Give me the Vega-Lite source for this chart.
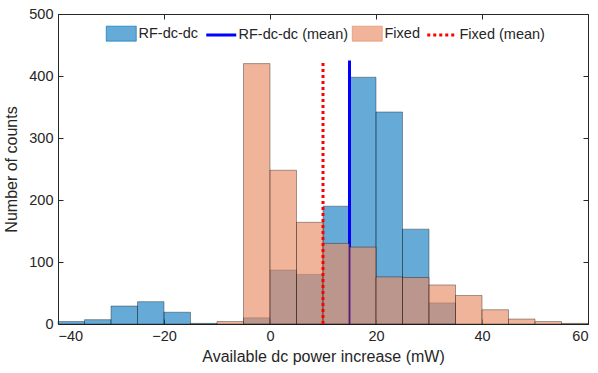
{
  "$schema": "https://vega.github.io/schema/vega-lite/v6.json",
  "width": 530,
  "height": 310,
  "autosize": {"type": "none"},
  "padding": {"left": 58, "top": 14, "right": 10, "bottom": 49},
  "background": "white",
  "config": {
    "view": {"stroke": "#262626", "strokeWidth": 1},
    "font": "Liberation Sans",
    "axis": {
      "grid": false,
      "domainColor": "#262626",
      "tickColor": "#262626",
      "labelColor": "#262626",
      "titleColor": "#262626",
      "labelFont": "Liberation Sans",
      "titleFont": "Liberation Sans",
      "labelFontSize": 14.5,
      "titleFontSize": 16,
      "titleFontWeight": "normal",
      "tickSize": -5
    },
    "legend": {"labelFont": "Liberation Sans", "labelFontSize": 14.5, "labelColor": "#262626"}
  },
  "datasets": {
    "hist": [
      {"series": "RF-dc-dc", "start": -40, "end": -35, "count": 4},
      {"series": "RF-dc-dc", "start": -35, "end": -30, "count": 7},
      {"series": "RF-dc-dc", "start": -30, "end": -25, "count": 29},
      {"series": "RF-dc-dc", "start": -25, "end": -20, "count": 36},
      {"series": "RF-dc-dc", "start": -20, "end": -15, "count": 19},
      {"series": "RF-dc-dc", "start": -15, "end": -10, "count": 1},
      {"series": "RF-dc-dc", "start": -5, "end": 0, "count": 10},
      {"series": "RF-dc-dc", "start": 0, "end": 5, "count": 87},
      {"series": "RF-dc-dc", "start": 5, "end": 10, "count": 80},
      {"series": "RF-dc-dc", "start": 10, "end": 15, "count": 190},
      {"series": "RF-dc-dc", "start": 15, "end": 20, "count": 398},
      {"series": "RF-dc-dc", "start": 20, "end": 25, "count": 342},
      {"series": "RF-dc-dc", "start": 25, "end": 30, "count": 153},
      {"series": "RF-dc-dc", "start": 30, "end": 35, "count": 34},
      {"series": "Fixed", "start": -10, "end": -5, "count": 4},
      {"series": "Fixed", "start": -5, "end": 0, "count": 420},
      {"series": "Fixed", "start": 0, "end": 5, "count": 248},
      {"series": "Fixed", "start": 5, "end": 10, "count": 164},
      {"series": "Fixed", "start": 10, "end": 15, "count": 130},
      {"series": "Fixed", "start": 15, "end": 20, "count": 124},
      {"series": "Fixed", "start": 20, "end": 25, "count": 76},
      {"series": "Fixed", "start": 25, "end": 30, "count": 75},
      {"series": "Fixed", "start": 30, "end": 35, "count": 63},
      {"series": "Fixed", "start": 35, "end": 40, "count": 46},
      {"series": "Fixed", "start": 40, "end": 45, "count": 23},
      {"series": "Fixed", "start": 45, "end": 50, "count": 8},
      {"series": "Fixed", "start": 50, "end": 55, "count": 4},
      {"series": "Fixed", "start": 55, "end": 60, "count": 1}
    ],
    "means": [
      {"series": "RF-dc-dc (mean)", "x": 15, "bottom": 0, "top": 425},
      {"series": "Fixed (mean)", "x": 10, "bottom": 0, "top": 425}
    ]
  },
  "layer": [
    {
      "data": {"name": "hist"},
      "transform": [{"filter": "datum.series == 'RF-dc-dc'"}],
      "mark": {"type": "rect", "fillOpacity": 0.6, "stroke": "#000000", "strokeOpacity": 0.5, "strokeWidth": 0.7},
      "encoding": {
        "x": {"field": "start", "type": "quantitative", "scale": {"domain": [-40, 60], "nice": false},
          "axis": {"values": [-40, -20, 0, 20, 40, 60], "title": "Available dc power increase (mW)", "labelPadding": 10, "titlePadding": 6}},
        "x2": {"field": "end"},
        "y": {"field": "count", "type": "quantitative", "scale": {"domain": [0, 500], "nice": false},
          "axis": {"values": [0, 100, 200, 300, 400, 500], "title": "Number of counts", "labelPadding": 10, "titlePadding": 9}},
        "y2": {"datum": 0},
        "color": {"field": "series", "type": "nominal",
          "scale": {"domain": ["RF-dc-dc", "RF-dc-dc (mean)", "Fixed", "Fixed (mean)"], "range": ["#0072BD", "#0000FF", "#E88C65", "#FF0000"]},
          "legend": {"title": null, "orient": "none", "legendX": 56, "legendY": 12, "direction": "horizontal", "columns": 4, "columnPadding": 1, "labelOffset": 10, "padding": 0, "symbolSize": 900,
            "encode": {"symbols": {"update": {
              "shape": {"signal": "(datum.value == 'RF-dc-dc' || datum.value == 'Fixed') ? 'M-1,-0.5H1V0.5H-1Z' : 'M-1,0H1'"},
              "size": {"value": 900},
              "fill": {"signal": "datum.value == 'RF-dc-dc' ? '#0072BD' : (datum.value == 'Fixed' ? '#E88C65' : 'transparent')"},
              "fillOpacity": {"signal": "datum.value == 'RF-dc-dc' ? 0.6 : 0.65"},
              "stroke": {"signal": "datum.value == 'RF-dc-dc (mean)' ? '#0000FF' : (datum.value == 'Fixed (mean)' ? '#FF0000' : 'rgba(0,0,0,0.5)')"},
              "strokeWidth": {"signal": "(datum.value == 'RF-dc-dc (mean)' || datum.value == 'Fixed (mean)') ? 3 : 0.7"},
              "strokeDash": {"signal": "datum.value == 'Fixed (mean)' ? [3, 3] : [1, 0]"},
              "opacity": {"value": 1}, "strokeOpacity": {"value": 1}}}}}
        }
      }
    },
    {
      "data": {"name": "means"},
      "transform": [{"filter": "datum.series == 'RF-dc-dc (mean)'"}],
      "mark": {"type": "rule", "strokeWidth": 3},
      "encoding": {
        "x": {"field": "x", "type": "quantitative", "axis": null},
        "y": {"field": "bottom", "type": "quantitative", "axis": null},
        "y2": {"field": "top"},
        "color": {"field": "series", "type": "nominal",
          "legend": {"title": null, "orient": "none", "legendX": 56, "legendY": 12, "direction": "horizontal", "columns": 4, "columnPadding": 1, "labelOffset": 10, "padding": 0, "symbolSize": 900,
            "encode": {"symbols": {"update": {
              "shape": {"signal": "(datum.value == 'RF-dc-dc' || datum.value == 'Fixed') ? 'M-1,-0.5H1V0.5H-1Z' : 'M-1,0H1'"},
              "size": {"value": 900},
              "fill": {"signal": "datum.value == 'RF-dc-dc' ? '#0072BD' : (datum.value == 'Fixed' ? '#E88C65' : 'transparent')"},
              "fillOpacity": {"signal": "datum.value == 'RF-dc-dc' ? 0.6 : 0.65"},
              "stroke": {"signal": "datum.value == 'RF-dc-dc (mean)' ? '#0000FF' : (datum.value == 'Fixed (mean)' ? '#FF0000' : 'rgba(0,0,0,0.5)')"},
              "strokeWidth": {"signal": "(datum.value == 'RF-dc-dc (mean)' || datum.value == 'Fixed (mean)') ? 3 : 0.7"},
              "strokeDash": {"signal": "datum.value == 'Fixed (mean)' ? [3, 3] : [1, 0]"},
              "opacity": {"value": 1}, "strokeOpacity": {"value": 1}}}}}
        }
      }
    },
    {
      "data": {"name": "hist"},
      "transform": [{"filter": "datum.series == 'Fixed'"}],
      "mark": {"type": "rect", "fillOpacity": 0.65, "stroke": "#000000", "strokeOpacity": 0.5, "strokeWidth": 0.7},
      "encoding": {
        "x": {"field": "start", "type": "quantitative", "axis": null},
        "x2": {"field": "end"},
        "y": {"field": "count", "type": "quantitative", "axis": null},
        "y2": {"datum": 0},
        "color": {"field": "series", "type": "nominal",
          "legend": {"title": null, "orient": "none", "legendX": 56, "legendY": 12, "direction": "horizontal", "columns": 4, "columnPadding": 1, "labelOffset": 10, "padding": 0, "symbolSize": 900,
            "encode": {"symbols": {"update": {
              "shape": {"signal": "(datum.value == 'RF-dc-dc' || datum.value == 'Fixed') ? 'M-1,-0.5H1V0.5H-1Z' : 'M-1,0H1'"},
              "size": {"value": 900},
              "fill": {"signal": "datum.value == 'RF-dc-dc' ? '#0072BD' : (datum.value == 'Fixed' ? '#E88C65' : 'transparent')"},
              "fillOpacity": {"signal": "datum.value == 'RF-dc-dc' ? 0.6 : 0.65"},
              "stroke": {"signal": "datum.value == 'RF-dc-dc (mean)' ? '#0000FF' : (datum.value == 'Fixed (mean)' ? '#FF0000' : 'rgba(0,0,0,0.5)')"},
              "strokeWidth": {"signal": "(datum.value == 'RF-dc-dc (mean)' || datum.value == 'Fixed (mean)') ? 3 : 0.7"},
              "strokeDash": {"signal": "datum.value == 'Fixed (mean)' ? [3, 3] : [1, 0]"},
              "opacity": {"value": 1}, "strokeOpacity": {"value": 1}}}}}
        }
      }
    },
    {
      "data": {"name": "means"},
      "transform": [{"filter": "datum.series == 'Fixed (mean)'"}],
      "mark": {"type": "rule", "strokeWidth": 3, "strokeDash": [3, 3]},
      "encoding": {
        "x": {"field": "x", "type": "quantitative",
          "axis": {"orient": "top", "values": [-40, -20, 0, 20, 40, 60], "labels": false, "title": null, "domain": false}},
        "y": {"field": "bottom", "type": "quantitative",
          "axis": {"orient": "right", "values": [0, 100, 200, 300, 400, 500], "labels": false, "title": null, "domain": false}},
        "y2": {"field": "top"},
        "color": {"field": "series", "type": "nominal",
          "legend": {"title": null, "orient": "none", "legendX": 56, "legendY": 12, "direction": "horizontal", "columns": 4, "columnPadding": 1, "labelOffset": 10, "padding": 0, "symbolSize": 900,
            "encode": {"symbols": {"update": {
              "shape": {"signal": "(datum.value == 'RF-dc-dc' || datum.value == 'Fixed') ? 'M-1,-0.5H1V0.5H-1Z' : 'M-1,0H1'"},
              "size": {"value": 900},
              "fill": {"signal": "datum.value == 'RF-dc-dc' ? '#0072BD' : (datum.value == 'Fixed' ? '#E88C65' : 'transparent')"},
              "fillOpacity": {"signal": "datum.value == 'RF-dc-dc' ? 0.6 : 0.65"},
              "stroke": {"signal": "datum.value == 'RF-dc-dc (mean)' ? '#0000FF' : (datum.value == 'Fixed (mean)' ? '#FF0000' : 'rgba(0,0,0,0.5)')"},
              "strokeWidth": {"signal": "(datum.value == 'RF-dc-dc (mean)' || datum.value == 'Fixed (mean)') ? 3 : 0.7"},
              "strokeDash": {"signal": "datum.value == 'Fixed (mean)' ? [3, 3] : [1, 0]"},
              "opacity": {"value": 1}, "strokeOpacity": {"value": 1}}}}}
        }
      }
    }
  ],
  "resolve": {"axis": {"x": "independent", "y": "independent"}}
}
